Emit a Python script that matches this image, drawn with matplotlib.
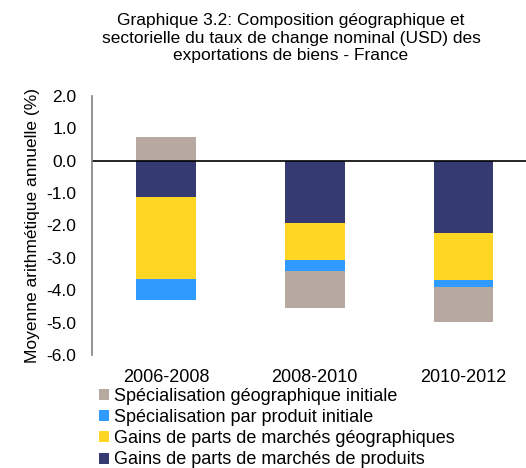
import matplotlib.pyplot as plt
import numpy as np

plt.rcParams["font.family"] = ["Liberation Sans", "DejaVu Sans"]

periods = ["2006-2008", "2008-2010", "2010-2012"]
series_names = [
    "Spécialisation géographique initiale",
    "Spécialisation par produit initiale",
    "Gains de parts de marchés géographiques",
    "Gains de parts de marchés de produits",
]
geo_init = [0.74, -1.14, -1.06]
prod_init = [-0.64, -0.34, -0.22]
geo_gains = [-2.51, -1.12, -1.44]
prod_gains = [-1.14, -1.94, -2.25]
colors = ["#b7a9a2", "#2f9bff", "#ffd624", "#353b72"]
yticks = [2.0, 1.0, 0.0, -1.0, -2.0, -3.0, -4.0, -5.0, -6.0]

fig = plt.figure(figsize=(5.26, 4.68), dpi=100)
ax = fig.add_axes([91.7 / 526, 1 - 355 / 468, 1 - 91.7 / 526, (355 - 95.7) / 468])

x = np.arange(len(periods))
values = [geo_init, prod_init, geo_gains, prod_gains]
# negatives stacked from zero downward: products, geographic, prod init, geo init
stack_order = [3, 2, 1, 0]
pos_base = np.zeros(len(periods))
neg_base = np.zeros(len(periods))
bars = {}
for i in stack_order:
    v = np.array(values[i])
    bottom = np.where(v >= 0, pos_base, neg_base)
    bars[i] = ax.bar(x, v, 0.4, bottom=bottom, color=colors[i], label=series_names[i])
    pos_base = pos_base + np.where(v >= 0, v, 0)
    neg_base = neg_base + np.where(v < 0, v, 0)

ax.axhline(0, color="black", lw=1.2)
ax.set_xlim(-0.5, 2.42)
ax.set_ylim(-6, 2)
ax.set_yticks(yticks)
ax.set_yticklabels([f"{t:.1f}" for t in yticks], fontsize=12.5)
ax.tick_params(axis="y", length=0, pad=11)
ax.set_xticks([])
for s in ["top", "right", "bottom"]:
    ax.spines[s].set_visible(False)
ax.spines["left"].set_color("#808080")
ax.spines["left"].set_linewidth(1.2)

for xi, p in zip(x, periods):
    ax.text(xi, -6.7, p, ha="center", va="center", fontsize=13)

ax.set_ylabel("Moyenne arithmétique annuelle (%)", fontsize=12.5)
ax.yaxis.set_label_coords(-0.12, 0.5)

fig.text(291 / 526, 1 - 38 / 468,
         "Graphique 3.2: Composition géographique et\n"
         "sectorielle du taux de change nominal (USD) des\n"
         "exportations de biens - France",
         ha="center", va="center", fontsize=12.5, linespacing=1.2)

handles = [bars[i] for i in range(4)]
fig.legend(handles, series_names, loc="upper left", bbox_to_anchor=(99 / 526, 1 - 388 / 468),
           frameon=False, fontsize=13, handlelength=0.55, handleheight=0.55,
           handletextpad=0.3, labelspacing=0.23, borderpad=0, borderaxespad=0)

fig.savefig("out.png", dpi=100)
